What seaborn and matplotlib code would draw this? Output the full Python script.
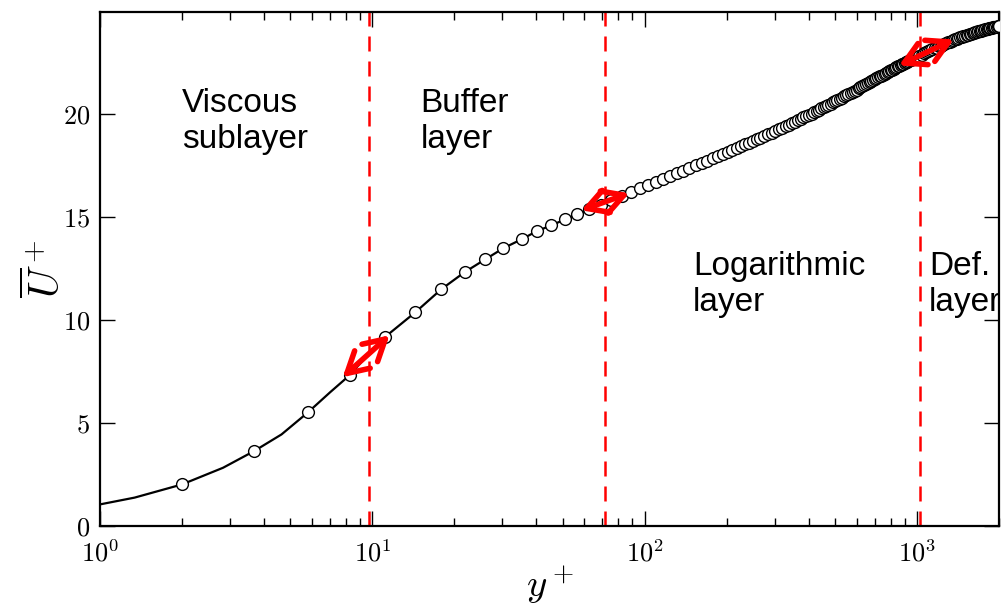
import numpy as np
import pandas as pd
import matplotlib
matplotlib.use("Agg")
import matplotlib.pyplot as plt
from matplotlib.ticker import FixedLocator, FixedFormatter, NullFormatter
import seaborn as sns

# Mean streamwise velocity profile in wall units (turbulent channel, Re_tau ~ 2000)
# extra vertices of the line close to the wall (no symbols there)
y_wall = [1.0, 1.34, 2.83, 4.64, 7.0, 9.6]
u_wall = [1.05, 1.38, 2.83, 4.45, 6.5, 8.3]

# sampled profile points, drawn as open circles
y_plus = [
    2.0, 3.68, 5.8, 8.26, 11.1, 14.4, 17.9, 21.8, 26.0, 30.3, 35.3, 40.1,
    45.4, 51.1, 56.6, 62.6, 69.0, 75.5, 82.3, 89.3, 96.4, 103, 110,
    117, 124, 131, 138, 146, 154, 162, 170, 178, 186, 194, 202, 210, 218,
    226, 234, 242, 250, 258, 266, 275, 284, 293, 302,
    311, 320, 329, 338, 347, 356, 365, 374, 383, 392, 401, 410, 419, 428,
    437, 446, 455, 464, 473, 482, 491, 500, 510, 520, 530, 540, 550, 560,
    570, 580, 590, 600, 610, 620, 630, 640, 650, 660, 670, 680, 690, 700,
    710, 720, 730, 740, 750, 760, 770, 780, 790, 800, 810, 820, 830, 840,
    850, 860, 870, 880, 890, 900, 910, 920, 930, 940, 950, 960, 970, 980,
    990, 1000,
    1020, 1040, 1060, 1080, 1100, 1120, 1140, 1160, 1180, 1200, 1220, 1240,
    1260, 1280, 1300, 1320, 1340, 1360, 1380, 1400, 1420, 1440, 1460, 1480,
    1500, 1520, 1540, 1560, 1580, 1600, 1620, 1640, 1660, 1680, 1700, 1720,
    1740, 1760, 1780, 1800, 1820, 1840, 1860, 1880, 1900, 1920, 1940, 1960,
    1980, 2000,
]
u_plus = [
    2.02, 3.64, 5.52, 7.33, 9.17, 10.39, 11.50, 12.33, 12.96, 13.50, 13.93,
    14.32, 14.61, 14.90, 15.15, 15.38, 15.61, 15.83, 16.03, 16.22, 16.40,
    16.55, 16.70,
    16.85, 16.99, 17.13, 17.25, 17.39, 17.52, 17.64, 17.76, 17.87, 17.98,
    18.08, 18.18, 18.28, 18.37, 18.46, 18.54, 18.62, 18.71, 18.79, 18.87,
    18.96, 19.04, 19.12, 19.20,
    19.29, 19.36, 19.43, 19.50, 19.57, 19.64, 19.71, 19.78, 19.85, 19.91,
    19.98, 20.04, 20.11, 20.17, 20.23, 20.29, 20.35, 20.41, 20.47, 20.52,
    20.58, 20.63, 20.69, 20.75, 20.81, 20.87, 20.93, 20.99, 21.04, 21.10,
    21.15, 21.21, 21.26, 21.31, 21.37, 21.42, 21.47, 21.52, 21.57, 21.61,
    21.67, 21.72,
    21.76, 21.80, 21.85, 21.89, 21.93, 21.98, 22.02, 22.06, 22.10, 22.14,
    22.18, 22.22, 22.26, 22.29, 22.33, 22.37, 22.40, 22.43, 22.47, 22.50,
    22.53, 22.56, 22.60, 22.63, 22.66, 22.69, 22.72, 22.75, 22.78, 22.81,
    22.86, 22.91, 22.96, 23.01, 23.06, 23.11, 23.16, 23.21, 23.25, 23.30,
    23.34, 23.38, 23.42, 23.46, 23.50, 23.53, 23.57, 23.61, 23.64, 23.68,
    23.71, 23.74, 23.77, 23.80, 23.82, 23.85, 23.88, 23.90, 23.92, 23.94,
    23.96, 23.99, 24.01, 24.03, 24.05, 24.07, 24.09, 24.11, 24.13, 24.15,
    24.17, 24.18, 24.20, 24.21, 24.23, 24.24, 24.26, 24.27, 24.28, 24.30,
]

# limits between the layers
y_bounds = [9.7, 71.7, 1030]

# double arrows along the profile (tail -> head)
arrow_y0 = [7.78, 58.5, 859]
arrow_u0 = [7.23, 15.34, 22.38]
arrow_y1 = [11.57, 87.8, 1365]
arrow_u1 = [9.27, 16.17, 23.64]

region_names = [["Viscous", "sublayer"], ["Buffer", "layer"],
                ["Logarithmic", "layer"], ["Def.", "layer"]]

x_ticks = [1, 10, 100, 1000]
x_ticklabels = [r"$10^{0}$", r"$10^{1}$", r"$10^{2}$", r"$10^{3}$"]
y_ticks = [0, 5, 10, 15, 20]
y_ticklabels = [r"$0$", r"$5$", r"$10$", r"$15$", r"$20$"]

# ---------------------------------------------------------------------------
sns.set_theme(style="ticks")
plt.rcParams["font.family"] = ["Liberation Sans", "DejaVu Sans"]
plt.rcParams["mathtext.fontset"] = "cm"
plt.rcParams["text.color"] = "black"
plt.rcParams["axes.labelcolor"] = "black"
plt.rcParams["xtick.color"] = "black"
plt.rcParams["ytick.color"] = "black"

line_df = pd.DataFrame({"y": y_wall + y_plus, "u": u_wall + u_plus}).sort_values("y")
pts_df = pd.DataFrame({"y": y_plus, "u": u_plus})

fig = plt.figure(figsize=(10.05, 6.15), dpi=100, facecolor="white")
ax = fig.add_axes([0.0995, 0.1447, 0.8945, 0.8366])
ax.set_xscale("log")

for xb in y_bounds:
    ax.axvline(xb, color="#ff0000", lw=1.8, ls=(0, (6, 4)), zorder=1.5)

sns.lineplot(data=line_df, x="y", y="u", ax=ax, color="black", lw=1.6,
             sort=True, estimator=None, zorder=2)
sns.scatterplot(data=pts_df, x="y", y="u", ax=ax, s=72, marker="o",
                color="white", edgecolor="black", linewidth=1.0, zorder=3)

for x0, u0, x1, u1 in zip(arrow_y0, arrow_u0, arrow_y1, arrow_u1):
    ax.annotate("", xy=(x1, u1), xytext=(x0, u0),
                arrowprops=dict(arrowstyle="<->,head_length=0.75,head_width=0.42",
                                color="#ff0000", lw=4.0, shrinkA=0, shrinkB=0,
                                mutation_scale=20),
                zorder=5)

label_x = [2.0, 15.0, 150.7, 1106]
label_u = [20.1, 20.1, 12.18, 12.18]
for (first, second), lx, lu in zip(region_names, label_x, label_u):
    ax.text(lx, lu, first, fontsize=24, ha="left", va="baseline",
            color="black", clip_on=True, zorder=4)
    ax.text(lx, lu - 1.75, second, fontsize=24, ha="left", va="baseline",
            color="black", clip_on=True, zorder=4)

ax.set_xlim(1, 2000)
ax.set_ylim(0, 25)
ax.xaxis.set_major_locator(FixedLocator(x_ticks))
ax.xaxis.set_major_formatter(FixedFormatter(x_ticklabels))
ax.xaxis.set_minor_formatter(NullFormatter())
ax.yaxis.set_major_locator(FixedLocator(y_ticks))
ax.yaxis.set_major_formatter(FixedFormatter(y_ticklabels))

ax.tick_params(which="both", direction="in", top=True, right=True,
               colors="black", width=1.0)
ax.tick_params(which="major", length=11, labelsize=19)
ax.tick_params(axis="y", which="major", pad=7)
ax.tick_params(axis="x", which="major", pad=10)
ax.tick_params(which="minor", length=5.5)
ax.tick_params(axis="y", which="minor", left=False, right=False)

for sp in ax.spines.values():
    sp.set_linewidth(1.6)
    sp.set_color("black")

ax.set_xlabel(r"$y^+$", fontsize=28, labelpad=-2)
ax.set_ylabel(r"$\overline{U}^+$", fontsize=30, labelpad=-4)
ax.set_facecolor("white")

fig.savefig("out.png", dpi=100, facecolor="white")
